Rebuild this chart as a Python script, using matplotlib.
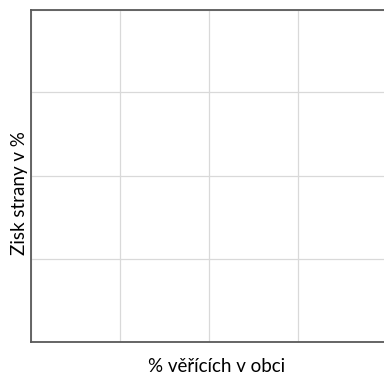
import matplotlib
matplotlib.use("Agg")
import matplotlib.pyplot as plt

x_ticks = [0, 25, 50, 75, 100]
y_ticks = [0, 25, 50, 75, 100]
x_values = []
y_values = []
x_label = "% věřících v obci"
y_label = "Zisk strany v %"

W, H = 384, 375
fig = plt.figure(figsize=(W / 100, H / 100), dpi=100)
left, right, top, bottom = 30.5, 386.5, 9.5, 341.5
ax = fig.add_axes([left / W, (H - bottom) / H, (right - left) / W, (bottom - top) / H])
ax.scatter(x_values, y_values)
ax.set_xlim(x_ticks[0], x_ticks[-1])
ax.set_ylim(y_ticks[0], y_ticks[-1])
ax.set_xticks(x_ticks)
ax.set_yticks(y_ticks)
ax.tick_params(length=0, labelbottom=False, labelleft=False)
ax.grid(True, color="#d9d9d9", linewidth=0.9)
ax.set_axisbelow(True)
for s in ["left", "top", "bottom"]:
    ax.spines[s].set_color("#595959")
    ax.spines[s].set_linewidth(1.3)
ax.spines["right"].set_visible(False)

fig.text(217 / W, 1 - 372 / H, x_label, ha="center", va="baseline",
         fontsize=13.5, family="Lato", color="#000000")
fig.text(20 / W, 1 - 193.5 / H, y_label, ha="center", va="center", rotation=90,
         fontsize=13.5, family="Lato", color="#000000")

fig.savefig("out.png", dpi=100)
